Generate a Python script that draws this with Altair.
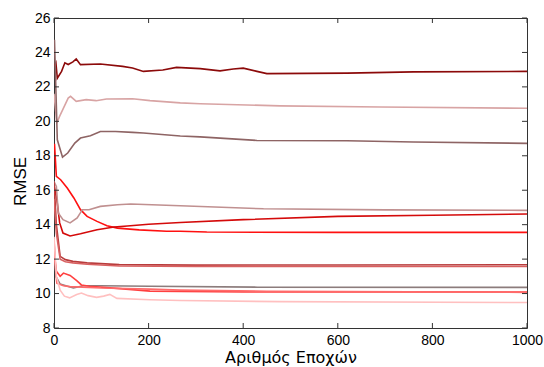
import altair as alt
import pandas as pd

# ---- data ----
s1_x = [0, 4, 7, 16, 23, 30, 40, 47, 56, 98, 145, 166, 189, 230, 259, 309, 351, 379, 400, 429, 450, 620, 760, 1000]
s1_y = [23.2, 23.4, 22.5, 22.9, 23.4, 23.3, 23.45, 23.62, 23.29, 23.33, 23.19, 23.1, 22.9, 22.98, 23.13, 23.06, 22.93, 23.04, 23.09, 22.9, 22.77, 22.8, 22.87, 22.9]

s2_x = [0, 6, 12, 20, 30, 35, 47, 68, 89, 111, 166, 203, 267, 309, 478, 690, 1000]
s2_y = [21.6, 19.9, 20.3, 20.77, 21.35, 21.45, 21.16, 21.26, 21.2, 21.3, 21.31, 21.2, 21.07, 21.02, 20.9, 20.83, 20.76]

s3_x = [1, 7, 18, 29, 44, 56, 77, 98, 130, 166, 189, 267, 309, 429, 619, 760, 1000]
s3_y = [24.74, 18.93, 17.92, 18.16, 18.74, 19.03, 19.16, 19.41, 19.41, 19.36, 19.32, 19.15, 19.1, 18.89, 18.87, 18.8, 18.72]

s4_x = [1, 5, 14, 28, 42, 56, 70, 91, 112, 134, 180, 238, 267, 323, 600, 1000]
s4_y = [18.7, 16.8, 16.61, 16.13, 15.55, 14.87, 14.48, 14.19, 13.94, 13.8, 13.7, 13.62, 13.62, 13.57, 13.55, 13.55]

s5_x = [0, 6, 12, 19, 34, 56, 91, 127, 155, 200, 267, 400, 600, 800, 1000]
s5_y = [16.3, 15.45, 14.1, 13.51, 13.34, 13.47, 13.71, 13.86, 13.92, 14.02, 14.13, 14.29, 14.48, 14.55, 14.62]

s6_x = [0, 5, 9, 19, 34, 49, 60, 74, 98, 134, 162, 267, 443, 700, 1000]
s6_y = [16.5, 16.22, 14.68, 14.29, 14.1, 14.39, 14.87, 14.87, 15.06, 15.16, 15.2, 15.1, 14.92, 14.86, 14.83]

s7_x = [0, 5, 13, 24, 40, 70, 138, 300, 600, 1000]
s7_y = [16.5, 14.0, 12.16, 11.97, 11.87, 11.78, 11.68, 11.65, 11.66, 11.67]

s8_x = [0, 5, 13, 24, 40, 70, 138, 300, 600, 1000]
s8_y = [15.5, 13.5, 12.0, 11.85, 11.78, 11.7, 11.6, 11.58, 11.57, 11.57]

s9_x = [0, 4, 13, 25, 41, 62, 97, 203, 430, 1000]
s9_y = [13.0, 11.0, 10.55, 10.45, 10.32, 10.45, 10.45, 10.42, 10.37, 10.36]

s10_x = [0, 5, 13, 20, 34, 48, 58, 75, 133, 203, 400, 1000]
s10_y = [12.5, 11.3, 11.0, 11.19, 11.05, 10.75, 10.5, 10.42, 10.3, 10.14, 10.1, 10.09]

s11_x = [0, 3, 6, 20, 34, 100, 203, 267, 450, 750, 1000]
s11_y = [13.2, 11.5, 10.6, 10.45, 10.4, 10.32, 10.26, 10.2, 10.13, 10.1, 10.07]

s12_x = [0, 5, 13, 22, 33, 48, 58, 72, 90, 105, 118, 133, 203, 267, 478, 1000]
s12_y = [13.3, 11.0, 10.2, 9.85, 9.75, 9.95, 10.03, 9.88, 9.78, 9.85, 9.95, 9.72, 9.64, 9.6, 9.53, 9.48]

names = ["s1", "s2", "s3", "s4", "s5", "s6", "s7", "s8", "s9", "s10", "s11", "s12"]
colors = ["#8c0a0a", "#d8a4a4", "#8e6464", "#ff1010", "#d40a0a", "#c09090",
          "#b83c3c", "#d86060", "#8c7c7c", "#ff4040", "#ff6a6a", "#ffc0c0"]
xs_all = [s1_x, s2_x, s3_x, s4_x, s5_x, s6_x, s7_x, s8_x, s9_x, s10_x, s11_x, s12_x]
ys_all = [s1_y, s2_y, s3_y, s4_y, s5_y, s6_y, s7_y, s8_y, s9_y, s10_y, s11_y, s12_y]

x_ticks = [0, 200, 400, 600, 800, 1000]
y_ticks = [8, 10, 12, 14, 16, 18, 20, 22, 24, 26]

rows = []
for n, xs, ys in zip(names, xs_all, ys_all):
    for xv, yv in zip(xs, ys):
        rows.append({"series": n, "epoch": xv, "rmse": yv})
df = pd.DataFrame(rows)

W, H = 473, 310
x_scale = alt.Scale(domain=[0, 1000], nice=False, zero=False)
y_scale = alt.Scale(domain=[8, 26], nice=False, zero=False)
FONT = "Liberation Sans"

x_axis = alt.Axis(values=x_ticks, format="d", title="Αριθμός Εποχών", grid=False, ticks=False,
                  domain=False, labelFont=FONT, labelFontSize=14, labelColor="#000",
                  labelPadding=5, labelFlush=False, labelOverlap=False,
                  titleFont="DejaVu Sans", titleFontSize=16, titleFontWeight="normal",
                  titleColor="#000", titleBaseline="alphabetic", titleY=34)
y_axis = alt.Axis(values=y_ticks, format="d", title="RMSE", grid=False, ticks=False,
                  domain=False, labelFont=FONT, labelFontSize=14, labelColor="#000",
                  labelPadding=4, labelFlush=False, labelOverlap=False,
                  titleFont=FONT, titleFontSize=17, titleFontWeight="normal",
                  titleColor="#000", titleBaseline="alphabetic", titleX=-29,
                  titleY=163, titleAlign="center")

lines = alt.Chart(df).mark_line(strokeWidth=1.6, clip=True).encode(
    x=alt.X("epoch:Q", scale=x_scale, axis=x_axis),
    y=alt.Y("rmse:Q", scale=y_scale, axis=y_axis),
    color=alt.Color("series:N", scale=alt.Scale(domain=names, range=colors), legend=None),
)

xt = pd.DataFrame({"v": x_ticks})
yt = pd.DataFrame({"v": y_ticks})
tick_col = "#333333"
xb = alt.Chart(xt).mark_rule(color=tick_col, strokeWidth=1).encode(
    x=alt.X("v:Q", scale=x_scale, axis=x_axis), y=alt.value(H), y2=alt.value(H - 5))
xtp = alt.Chart(xt).mark_rule(color=tick_col, strokeWidth=1).encode(
    x=alt.X("v:Q", scale=x_scale, axis=x_axis), y=alt.value(0), y2=alt.value(5))
yl = alt.Chart(yt).mark_rule(color=tick_col, strokeWidth=1).encode(
    y=alt.Y("v:Q", scale=y_scale, axis=y_axis), x=alt.value(0), x2=alt.value(5))
yr = alt.Chart(yt).mark_rule(color=tick_col, strokeWidth=1).encode(
    y=alt.Y("v:Q", scale=y_scale, axis=y_axis), x=alt.value(W - 5), x2=alt.value(W))

chart = alt.layer(lines, xb, xtp, yl, yr).properties(
    width=W, height=H,
    autosize=alt.AutoSizeParams(type="none"),
    padding={"left": 54, "top": 18, "right": 17, "bottom": 39},
    background="white",
).configure_view(stroke="#333333", strokeWidth=1)

chart.save("out.html", embed_options={"renderer": "svg", "actions": False})
